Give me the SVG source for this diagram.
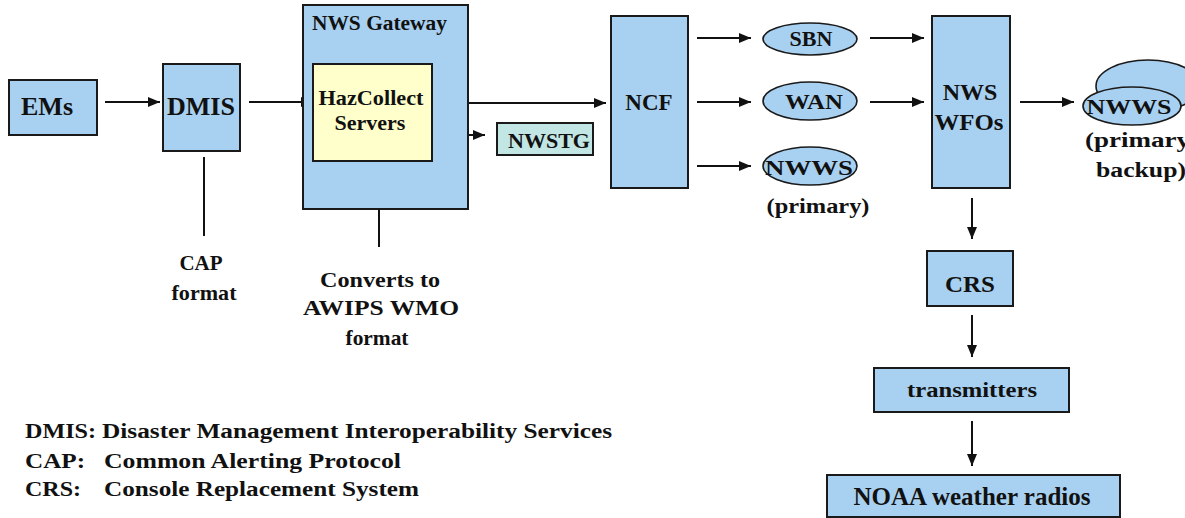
<svg xmlns="http://www.w3.org/2000/svg" width="1185" height="518" viewBox="0 0 1185 518">
<style>
.box{fill:#a8d0f0;stroke:#1a1a1a;stroke-width:2}
.haz{fill:#ffffcc;stroke:#1a1a1a;stroke-width:2}
.tg{fill:#c2e6e4;stroke:#1a1a1a;stroke-width:2}
.ell{fill:#a8d0f0;stroke:#1a1a1a;stroke-width:1.6}
.t{font-weight:bold;fill:#111;text-anchor:middle}
.l{font-weight:bold;fill:#111;font-size:20px}
.c line{stroke:#111;stroke-width:2;fill:none}
.a{marker-end:url(#ah)}
</style>
<defs>
<marker id="ah" markerWidth="12" markerHeight="10" refX="12" refY="5" orient="auto" markerUnits="userSpaceOnUse">
<path d="M0,0 L12,5 L0,10 Z" fill="#111"/>
</marker>
</defs>
<rect width="1185" height="518" fill="#ffffff"/>

<g class="c" id="connectors">
<line class="a" x1="105" y1="102" x2="160" y2="102"/>
<line class="a" x1="249" y1="102" x2="313" y2="102"/>
<line class="a" x1="443" y1="103" x2="606" y2="103"/>
<line class="a" x1="443" y1="135" x2="485" y2="135"/>
<line class="a" x1="697" y1="38" x2="751" y2="38"/>
<line class="a" x1="697" y1="102" x2="751" y2="102"/>
<line class="a" x1="697" y1="166" x2="751" y2="166"/>
<line class="a" x1="870" y1="38" x2="924" y2="38"/>
<line class="a" x1="870" y1="102" x2="924" y2="102"/>
<line class="a" x1="1020" y1="102" x2="1074" y2="102"/>
<line class="a" x1="972" y1="198" x2="972" y2="239"/>
<line class="a" x1="972" y1="315" x2="972" y2="357"/>
<line class="a" x1="972" y1="421" x2="972" y2="466"/>
<line x1="204" y1="157" x2="204" y2="236"/>
<line x1="379" y1="161" x2="379" y2="247"/>
</g>

<g font-family="'Liberation Serif', 'Times New Roman', 'DejaVu Serif', serif">
<g id="ems"><rect class="box" x="9" y="80" width="88" height="55"/><text class="t" x="47" y="115" font-size="26">EMs</text></g>
<g id="dmis"><rect class="box" x="163" y="64" width="77" height="87"/><text class="t" x="201" y="115" font-size="26">DMIS</text></g>
<g id="gateway"><rect class="box" x="303" y="5" width="165" height="204"/><text class="l" x="312" y="30" font-size="20" textLength="135" lengthAdjust="spacingAndGlyphs">NWS Gateway</text></g>
<g id="hazcollect"><rect class="haz" x="313" y="64" width="119" height="97"/><text class="t" x="371" y="105" font-size="22" textLength="105" lengthAdjust="spacingAndGlyphs">HazCollect</text><text class="t" x="370" y="130" font-size="22">Servers</text></g>
<g id="nwstg"><rect class="tg" x="497" y="123" width="96" height="32"/><text class="t" x="549" y="148" font-size="20" textLength="82" lengthAdjust="spacingAndGlyphs">NWSTG</text></g>
<g id="ncf"><rect class="box" x="611" y="16" width="77" height="172"/><text class="t" x="649" y="110" font-size="23">NCF</text></g>
<g id="sbn"><ellipse class="ell" cx="810" cy="39" rx="47" ry="16"/><text class="t" x="811" y="46" font-size="22">SBN</text></g>
<g id="wan"><ellipse class="ell" cx="810" cy="101" rx="47" ry="19"/><text class="t" x="814" y="109" font-size="22" textLength="58" lengthAdjust="spacingAndGlyphs">WAN</text></g>
<g id="nwws-primary"><ellipse class="ell" cx="810" cy="166" rx="47" ry="19"/><text class="t" x="809" y="175" font-size="22" textLength="88" lengthAdjust="spacingAndGlyphs">NWWS</text><text class="t" x="818" y="213" font-size="20" textLength="103" lengthAdjust="spacingAndGlyphs">(primary)</text></g>
<g id="wfos"><rect class="box" x="932" y="16" width="78" height="172"/><text class="t" x="970" y="100" font-size="24">NWS</text><text class="t" x="969" y="130" font-size="24" textLength="69" lengthAdjust="spacingAndGlyphs">WFOs</text></g>
<g id="nwws-backup"><ellipse class="ell" cx="1148" cy="86" rx="52" ry="26"/><ellipse class="ell" cx="1132" cy="106" rx="49" ry="19"/><text class="t" x="1129" y="114" font-size="22" textLength="85" lengthAdjust="spacingAndGlyphs">NWWS</text><text class="l" x="1085" y="147" textLength="105" lengthAdjust="spacingAndGlyphs">(primary</text><text class="l" x="1096" y="177" textLength="90" lengthAdjust="spacingAndGlyphs">backup)</text></g>
<g id="crs"><rect class="box" x="927" y="251" width="86" height="55"/><text class="t" x="970" y="292" font-size="23" textLength="50" lengthAdjust="spacingAndGlyphs">CRS</text></g>
<g id="transmitters"><rect class="box" x="874" y="368" width="195" height="44"/><text class="t" x="972" y="397" font-size="21" textLength="130" lengthAdjust="spacingAndGlyphs">transmitters</text></g>
<g id="noaa"><rect class="box" x="827" y="475" width="293" height="42"/><text class="t" x="972" y="505" font-size="25" textLength="237" lengthAdjust="spacingAndGlyphs">NOAA weather radios</text></g>

<g id="labels">
<text class="t" x="201" y="270" font-size="21">CAP</text>
<text class="t" x="204" y="300" font-size="21" textLength="65" lengthAdjust="spacingAndGlyphs">format</text>
<text class="t" x="380" y="287" font-size="21" textLength="120" lengthAdjust="spacingAndGlyphs">Converts to</text>
<text class="t" x="381" y="315" font-size="21" textLength="156" lengthAdjust="spacingAndGlyphs">AWIPS WMO</text>
<text class="t" x="377" y="345" font-size="21" textLength="63" lengthAdjust="spacingAndGlyphs">format</text>
</g>

<g id="legend">
<text class="l" x="25" y="438" textLength="71" lengthAdjust="spacingAndGlyphs">DMIS:</text>
<text class="l" x="102" y="438" textLength="510" lengthAdjust="spacingAndGlyphs">Disaster Management Interoperability Services</text>
<text class="l" x="25" y="468" textLength="60" lengthAdjust="spacingAndGlyphs">CAP:</text>
<text class="l" x="104" y="468" textLength="297" lengthAdjust="spacingAndGlyphs">Common Alerting Protocol</text>
<text class="l" x="25" y="496" textLength="56" lengthAdjust="spacingAndGlyphs">CRS:</text>
<text class="l" x="104" y="496" textLength="315" lengthAdjust="spacingAndGlyphs">Console Replacement System</text>
</g>
</g>
</svg>
